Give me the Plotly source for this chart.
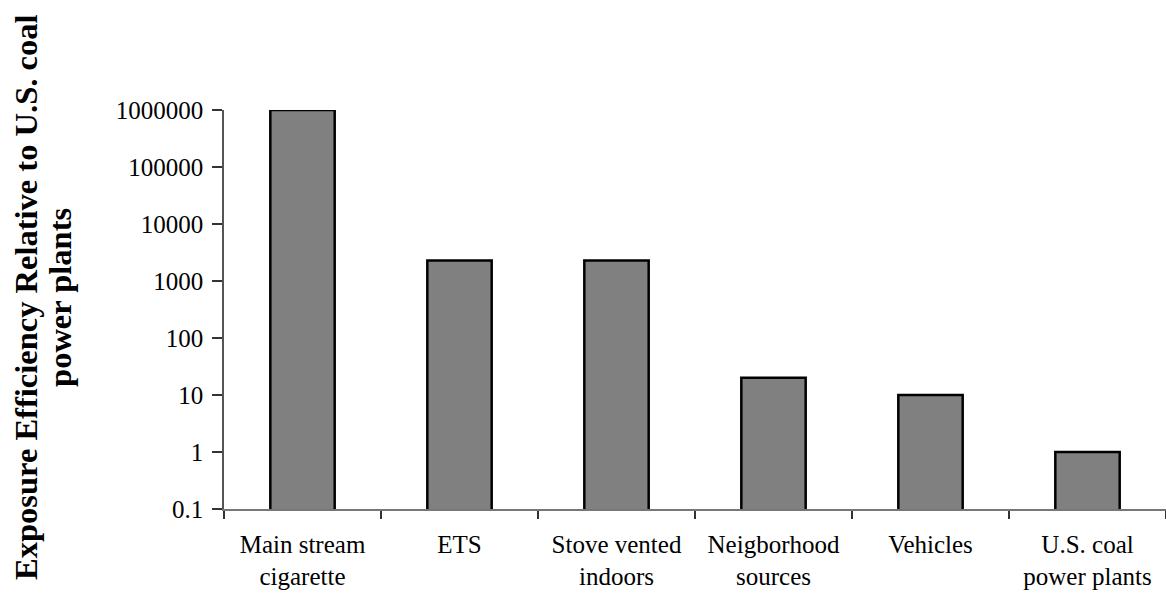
import plotly.graph_objects as go

# Exposure efficiency of each source, relative to U.S. coal power plants
categories = ["Main stream<br>cigarette", "ETS", "Stove vented<br>indoors",
              "Neigborhood<br>sources", "Vehicles", "U.S. coal<br>power plants"]
efficiency = [1000000, 2300, 2300, 20, 10, 1]

y_tick_values = [0.1, 1, 10, 100, 1000, 10000, 100000, 1000000]
y_tick_labels = ["0.1", "1", "10", "100", "1000", "10000", "100000", "1000000"]

title_line1 = "Exposure Efficiency Relative to U.S. coal"
title_line2 = "power plants"

serif = "Liberation Serif, Times New Roman, serif"

fig = go.Figure(
    go.Bar(
        x=categories,
        y=efficiency,
        marker=dict(color="#808080", line=dict(color="#000000", width=2.5)),
        width=0.41,
    )
)

fig.update_layout(
    width=1166,
    height=594,
    margin=dict(l=224, r=0, t=110, b=85),
    paper_bgcolor="white",
    plot_bgcolor="white",
    showlegend=False,
    font=dict(family=serif, color="black", size=24),
    bargap=0.59,
)

fig.update_yaxes(
    type="log",
    range=[-1, 6],
    tickvals=y_tick_values,
    ticktext=y_tick_labels,
    showgrid=False,
    zeroline=False,
    showline=True,
    linecolor="#555555",
    linewidth=1.5,
    ticks="outside",
    ticklen=10,
    tickwidth=1.5,
    tickcolor="#333333",
    tickfont=dict(family=serif, size=25, color="black"),
    ticklabelstandoff=4,
)

fig.update_xaxes(
    range=[-0.5, 5.5],
    showgrid=False,
    zeroline=False,
    showline=True,
    linecolor="#777777",
    linewidth=1.5,
    ticks="outside",
    tickson="boundaries",
    ticklen=8,
    tickwidth=1.5,
    tickcolor="#333333",
    tickfont=dict(family=serif, size=25, color="black"),
    ticklabelstandoff=12,
)

# Two-line rotated axis title
for text, xpx in [(title_line1, 26), (title_line2, 60)]:
    fig.add_annotation(
        text="<b>" + text + "</b>",
        xref="paper", yref="paper",
        x=(xpx - 224) / 942, y=0.529,
        xanchor="center", yanchor="middle",
        textangle=-90,
        showarrow=False,
        font=dict(family=serif, size=32.5, color="black"),
    )

fig.write_html("out.html")
